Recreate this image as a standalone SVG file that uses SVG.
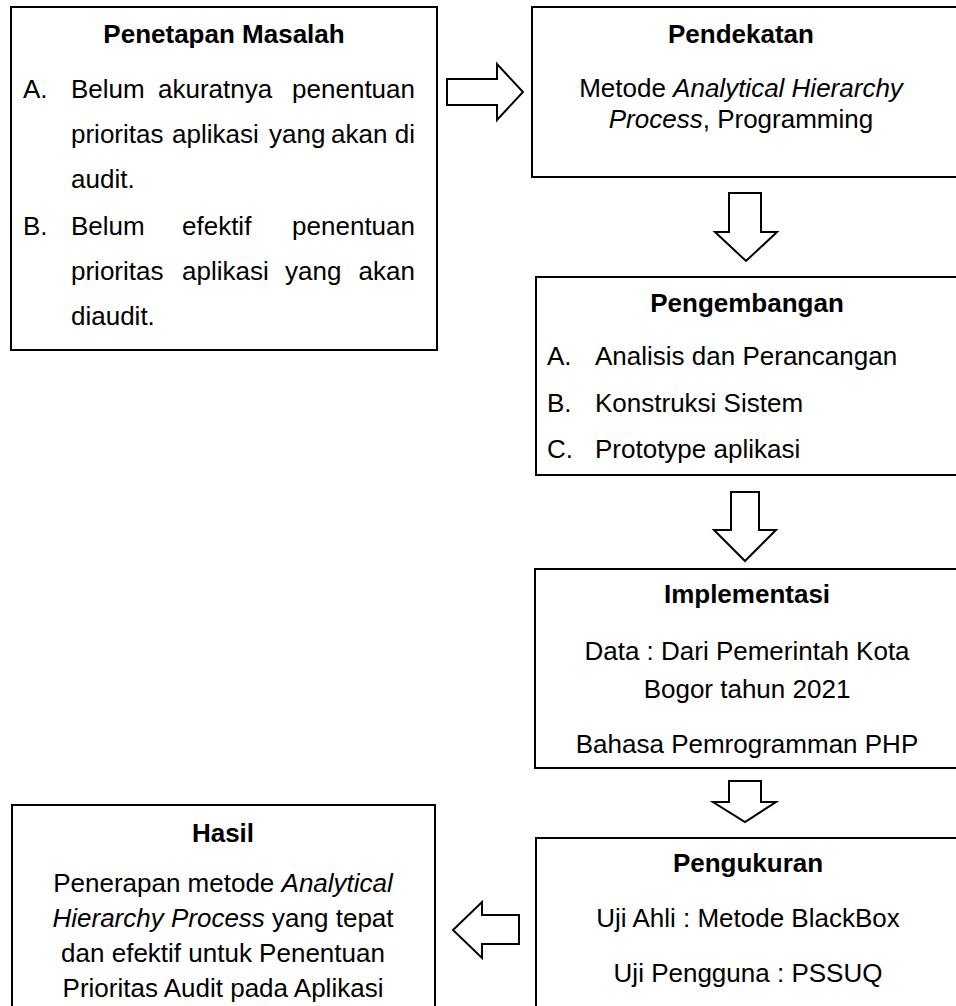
<svg xmlns="http://www.w3.org/2000/svg" width="956" height="1006" viewBox="0 0 956 1006">
<style>
.box{fill:#fff;stroke:#000;stroke-width:2}
.arr{fill:#fff;stroke:#000;stroke-width:2;stroke-linejoin:miter}
text{font-family:"Liberation Sans",Arial,sans-serif;font-size:26px;fill:#000}
.t{font-weight:bold;text-anchor:middle}
.c{text-anchor:middle}
.e{text-anchor:end}
.i{font-style:italic}
</style>
<rect width="956" height="1006" fill="#fff"/>
<g id="connectors">
<polygon class="arr" points="447,79 497,79 497,64 523,92 497,120 497,105 447,105"/>
<polygon class="arr" points="729,193 761,193 761,232 777,232 746,261 715,232 729,232"/>
<polygon class="arr" points="731,492 759,492 759,530 776,530 745,561 714,530 731,530"/>
<polygon class="arr" points="729,781 761,781 761,802 776,802 745,822 713,802 729,802"/>
<polygon class="arr" points="519,915 519,944 482,944 482,958 453,930 482,902 482,915"/>
</g>
<g id="penetapan">
<rect class="box" x="11" y="7" width="426" height="343"/>
<text class="t" x="224" y="43">Penetapan Masalah</text>
<text x="23" y="98">A.</text>
<text x="71" y="98">Belum</text><text x="158" y="98">akuratnya</text><text class="e" x="415" y="98">penentuan</text>
<text x="71" y="143">prioritas</text><text x="172" y="143">aplikasi</text><text x="269" y="143">yang</text><text x="331" y="143">akan</text><text class="e" x="415" y="143">di</text>
<text x="71" y="188">audit.</text>
<text x="23" y="235">B.</text>
<text x="71" y="235">Belum</text><text x="182" y="235">efektif</text><text class="e" x="415" y="235">penentuan</text>
<text x="71" y="280">prioritas</text><text x="182" y="280">aplikasi</text><text x="285" y="280">yang</text><text class="e" x="415" y="280">akan</text>
<text x="71" y="325">diaudit.</text>
</g>
<g id="pendekatan">
<rect class="box" x="532" y="7" width="440" height="170"/>
<text class="t" x="741" y="43">Pendekatan</text>
<text class="c" x="741" y="97">Metode <tspan class="i">Analytical Hierarchy</tspan></text>
<text class="c" x="741" y="128"><tspan class="i">Process</tspan>, Programming</text>
</g>
<g id="pengembangan">
<rect class="box" x="536" y="277" width="436" height="198"/>
<text class="t" x="747" y="312">Pengembangan</text>
<text x="547" y="365">A.</text><text x="595" y="365">Analisis dan Perancangan</text>
<text x="547" y="412">B.</text><text x="595" y="412">Konstruksi Sistem</text>
<text x="547" y="458">C.</text><text x="595" y="458">Prototype aplikasi</text>
</g>
<g id="implementasi">
<rect class="box" x="535" y="569" width="437" height="199"/>
<text class="t" x="747" y="603">Implementasi</text>
<text class="c" x="747" y="660">Data : Dari Pemerintah Kota</text>
<text class="c" x="747" y="698">Bogor tahun 2021</text>
<text class="c" x="747" y="753">Bahasa Pemrogramman PHP</text>
</g>
<g id="pengukuran">
<rect class="box" x="536" y="838" width="436" height="190"/>
<text class="t" x="748" y="872">Pengukuran</text>
<text class="c" x="748" y="927">Uji Ahli : Metode BlackBox</text>
<text class="c" x="748" y="982">Uji Pengguna : PSSUQ</text>
</g>
<g id="hasil">
<rect class="box" x="12" y="805" width="423" height="220"/>
<text class="t" x="223" y="842">Hasil</text>
<text class="c" x="223" y="892">Penerapan metode <tspan class="i">Analytical</tspan></text>
<text class="c" x="223" y="927"><tspan class="i">Hierarchy Process</tspan> yang tepat</text>
<text class="c" x="223" y="962">dan efektif untuk Penentuan</text>
<text class="c" x="223" y="997">Prioritas Audit pada Aplikasi</text>
</g>
</svg>
